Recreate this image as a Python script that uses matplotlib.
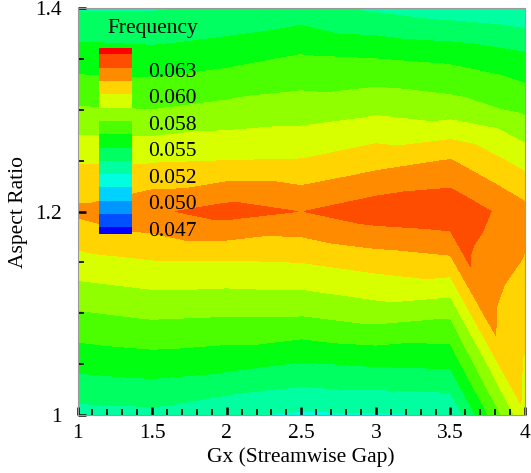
import matplotlib
matplotlib.use("Agg")
import matplotlib.pyplot as plt
import matplotlib.tri as mtri
from matplotlib.patches import Rectangle
from matplotlib.ticker import MultipleLocator

plt.rcParams['font.family'] = ['Liberation Serif', 'DejaVu Serif']

# ---------------- data ----------------
gx = [1.0, 1.5, 2.0, 2.5, 3.0, 3.5, 4.0]
aspect_ratio = [1.0, 1.05, 1.1, 1.15, 1.2, 1.25, 1.3, 1.35, 1.4]

# frequency at each aspect ratio (bottom -> top) for each Gx column
freq_gx_1_0 = [0.05386, 0.05616, 0.05832, 0.06061, 0.06277, 0.06102, 0.05859, 0.05643, 0.05427]
freq_gx_1_5 = [0.05400, 0.05643, 0.05872, 0.06102, 0.06360, 0.06102, 0.05845, 0.05629, 0.05427]
freq_gx_2_0 = [0.05325, 0.05616, 0.05859, 0.06102, 0.06439, 0.06115, 0.05886, 0.05670, 0.05454]
freq_gx_2_5 = [0.05285, 0.05562, 0.05859, 0.06115, 0.06382, 0.06122, 0.05913, 0.05730, 0.05495]
freq_gx_3_0 = [0.05292, 0.05589, 0.05913, 0.06169, 0.06466, 0.06196, 0.05953, 0.05710, 0.05413]
freq_gx_3_5 = [0.05312, 0.05602, 0.05872, 0.06210, 0.06493, 0.06257, 0.05913, 0.05683, 0.05359]
freq_gx_4_0 = [0.06093, 0.06102, 0.06156, 0.06238, 0.06295, 0.06065, 0.05815, 0.05613, 0.05319]

levels = [0.0463, 0.04765, 0.0490, 0.05035, 0.0517, 0.05305, 0.0544, 0.05575,
          0.0571, 0.05845, 0.0598, 0.06115, 0.0625, 0.06385, 0.0652, 0.06655]
legend_labels = ['0.047', '0.050', '0.052', '0.055', '0.058', '0.060', '0.063']
x_ticks = [1, 1.5, 2, 2.5, 3, 3.5, 4]
x_tick_labels = ['1', '1.5', '2', '2.5', '3', '3.5', '4']
y_ticks = [1.0, 1.2, 1.4]
y_tick_labels = ['1', '1.2', '1.4']

colors = ['#0000ff', '#0050ff', '#0096ff', '#00d2ff', '#00ffe0', '#00ffa0',
          '#00ff60', '#00ff10', '#4cff00', '#90ff00', '#d8ff00', '#ffd400',
          '#ff8c00', '#ff4d00', '#ff0000']

# ---------------- mesh ----------------
columns = [freq_gx_1_0, freq_gx_1_5, freq_gx_2_0, freq_gx_2_5,
           freq_gx_3_0, freq_gx_3_5, freq_gx_4_0]
nA = len(aspect_ratio)
xs = [g for g in gx for _ in aspect_ratio]
ys = [a for _ in gx for a in aspect_ratio]
zs = [v for col in columns for v in col]


def idx(i, j):
    return i * nA + j


tris = []
last = len(gx) - 2
split = aspect_ratio.index(1.2)
for i in range(len(gx) - 1):
    for j in range(nA - 1):
        if i == last and j < split:
            continue
        tris.append([idx(i, j), idx(i + 1, j), idx(i + 1, j + 1)])
        tris.append([idx(i, j), idx(i + 1, j + 1), idx(i, j + 1)])
for j in range(split):
    tris.append([idx(last, j), idx(last + 1, 0), idx(last, j + 1)])
    tris.append([idx(last, split), idx(last + 1, j), idx(last + 1, j + 1)])

tri = mtri.Triangulation(xs, ys, tris)

# ---------------- figure ----------------
W, H = 531, 473
fig = plt.figure(figsize=(W / 100, H / 100), dpi=100)
ax_l, ax_r, ax_t, ax_b = 77.5, 525.0, 8.0, 415.0
ax = fig.add_axes([ax_l / W, 1 - ax_b / H, (ax_r - ax_l) / W, (ax_b - ax_t) / H])

ax.tricontourf(tri, zs, levels=levels, colors=colors)

ax.set_xlim(1, 4)
ax.set_ylim(1, 1.4)
ax.set_xticks(x_ticks)
ax.set_xticklabels(x_tick_labels)
ax.set_yticks(y_ticks)
ax.set_yticklabels(y_tick_labels)
ax.xaxis.set_minor_locator(MultipleLocator(0.1))
ax.yaxis.set_minor_locator(MultipleLocator(0.05))
ax.tick_params(which='both', direction='in', top=False, right=False,
               labelsize=15.5, color='black')
ax.tick_params(which='major', length=6, width=1.8)
ax.tick_params(axis='x', which='major', pad=6.5)
ax.tick_params(axis='y', which='major', pad=11.5)
ax.tick_params(which='minor', length=4, width=1.2)
for s in ax.spines.values():
    s.set_color('#9a9a9a')
    s.set_linewidth(0.8)

ax.set_xlabel('Gx (Streamwise Gap)', fontsize=15.5, labelpad=3)
ax.set_ylabel('Aspect Ratio', fontsize=15.5, labelpad=5)

# ---------------- legend ----------------
ph = ax_b - ax_t
pw = ax_r - ax_l


def ax_x(px):
    return (px - ax_l) / pw


def ax_y(py):
    return (ax_b - py) / ph


box_left, box_right = 99.0, 131.7
box_bottom = 234.0
unit = 13.3
heights = [unit / 2] + [unit] * (len(colors) - 2) + [unit / 2]
cur = box_bottom
for c, h in zip(colors, heights):
    y0 = ax_y(cur)
    y1 = ax_y(cur - h)
    ax.add_patch(Rectangle((ax_x(box_left), y0), ax_x(box_right) - ax_x(box_left),
                           y1 - y0, transform=ax.transAxes, facecolor=c,
                           edgecolor='none', zorder=5))
    cur -= h

for m, lab in enumerate(legend_labels):
    ax.text(ax_x(148), ax_y(231 - 26.5 * m), lab, transform=ax.transAxes,
            fontsize=15.5, va='center', ha='left', zorder=6)
ax.text(ax_x(107), ax_y(28.5), 'Frequency', transform=ax.transAxes,
        fontsize=15.5, va='center', ha='left', zorder=6)

fig.savefig('out.png', dpi=100)
